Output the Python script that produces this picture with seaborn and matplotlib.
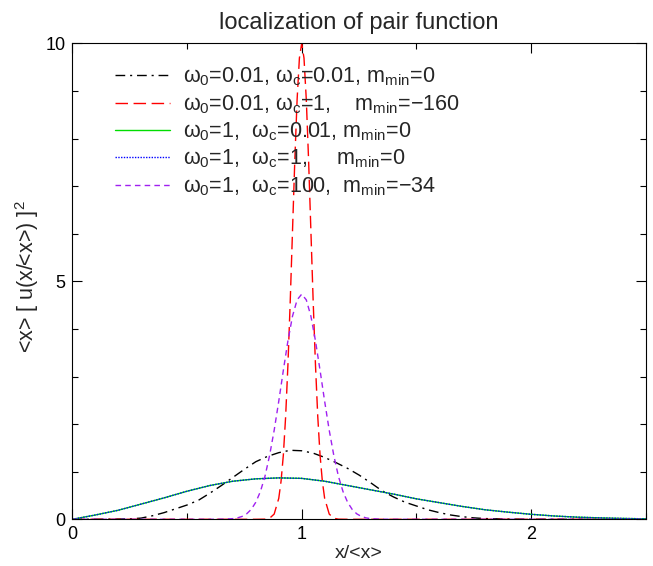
import numpy as np
import pandas as pd
import matplotlib
matplotlib.use("Agg")
import matplotlib.pyplot as plt
import seaborn as sns

# ---------------- data ----------------
black_x = [0.0, 0.10, 0.20, 0.25, 0.30, 0.35, 0.40, 0.45, 0.50, 0.55, 0.60, 0.65, 0.70,
           0.75, 0.80, 0.85, 0.90, 0.95, 1.00, 1.05, 1.10, 1.15, 1.20, 1.25, 1.30, 1.35,
           1.40, 1.45, 1.50, 1.55, 1.60, 1.65, 1.70, 1.75, 1.80, 1.90, 2.00, 2.50]
black_y = [0.0, 0.0, 0.005, 0.01, 0.025, 0.075, 0.14, 0.22, 0.30, 0.40, 0.55, 0.71, 0.88,
           1.05, 1.21, 1.32, 1.40, 1.45, 1.44, 1.39, 1.30, 1.19, 1.07, 0.93, 0.77, 0.60,
           0.47, 0.36, 0.28, 0.20, 0.14, 0.09, 0.055, 0.03, 0.015, 0.005, 0.0, 0.0]

red_x = [0.0, 0.80, 0.84, 0.86, 0.88, 0.90, 0.91, 0.92, 0.93, 0.94, 0.95, 0.96, 0.97, 0.98,
         0.99, 1.00, 1.01, 1.02, 1.03, 1.04, 1.05, 1.06, 1.07, 1.08, 1.09, 1.10, 1.12,
         1.14, 1.16, 1.20, 2.50]
red_y = [0.0, 0.0, 0.003, 0.022, 0.11, 0.44, 0.80, 1.35, 2.16, 3.25, 4.58, 6.07, 7.55, 8.82,
         9.69, 10.0, 9.69, 8.82, 7.55, 6.07, 4.58, 3.25, 2.16, 1.35, 0.80, 0.44, 0.11,
         0.022, 0.003, 0.0, 0.0]

green_x = [0.0, 0.1, 0.2, 0.3, 0.4, 0.5, 0.6, 0.7, 0.8, 0.9, 1.0, 1.1, 1.2, 1.3, 1.4,
           1.5, 1.6, 1.7, 1.8, 1.9, 2.0, 2.1, 2.2, 2.3, 2.4, 2.5]
green_y = [0.0, 0.09, 0.19, 0.32, 0.45, 0.59, 0.71, 0.80, 0.85, 0.87, 0.86, 0.80, 0.71,
           0.62, 0.53, 0.43, 0.35, 0.27, 0.20, 0.15, 0.105, 0.07, 0.045, 0.03, 0.018, 0.01]

blue_x = list(green_x)
blue_y = list(green_y)

purple_x = [0.0, 0.60, 0.66, 0.70, 0.72, 0.74, 0.76, 0.78, 0.80, 0.82, 0.84, 0.86, 0.88,
            0.90, 0.92, 0.94, 0.96, 0.98, 1.00, 1.02, 1.04, 1.06, 1.08, 1.10, 1.12, 1.14,
            1.16, 1.18, 1.20, 1.22, 1.24, 1.26, 1.28, 1.30, 1.34, 1.40, 2.50]
purple_y = [0.0, 0.0, 0.003, 0.014, 0.030, 0.060, 0.115, 0.208, 0.359, 0.584, 0.905, 1.34,
            1.87, 2.48, 3.13, 3.75, 4.27, 4.61, 4.73, 4.61, 4.27, 3.75, 3.13, 2.48, 1.87,
            1.34, 0.905, 0.584, 0.359, 0.208, 0.115, 0.060, 0.030, 0.014, 0.003, 0.0, 0.0]

labels = [
    r"ω$_0$=0.01, ω$_c$=0.01, m$_{min}$=0",
    r"ω$_0$=0.01, ω$_c$=1,    m$_{min}$=−160",
    r"ω$_0$=1,  ω$_c$=0.01, m$_{min}$=0",
    r"ω$_0$=1,  ω$_c$=1,     m$_{min}$=0",
    r"ω$_0$=1,  ω$_c$=100,  m$_{min}$=−34",
]

x_ticks = [0, 1, 2]
y_ticks = [0, 5, 10]
title = "localization of pair function"
xlabel = "x/<x>"
ylabel = r"<x> [ u(x/<x>) ]$^2$"

# ---------------- style ----------------
sns.set_style("ticks")
plt.rcParams["font.family"] = ["Liberation Sans", "DejaVu Sans"]
plt.rcParams["mathtext.fontset"] = "custom"
plt.rcParams["mathtext.rm"] = "Liberation Sans"
plt.rcParams["mathtext.it"] = "Liberation Sans"
plt.rcParams["mathtext.default"] = "regular"

fig = plt.figure(figsize=(6.53, 5.66), dpi=100)
ax = fig.add_axes([0.1107, 0.0825, 0.8783, 0.841])

series = [
    (black_x, black_y, "black", (0, (7, 3.5, 1.5, 3.5))),
    (red_x, red_y, "#ff0000", (0, (9, 4))),
    (green_x, green_y, "#00dd00", "-"),
    (blue_x, blue_y, "#0000ff", (0, (1, 1))),
    (purple_x, purple_y, "#a020f0", (0, (4, 3))),
]

for (xs, ys, col, ls), lab in zip(series, labels):
    df = pd.DataFrame({"x": xs, "y": ys})
    sns.lineplot(data=df, x="x", y="y", ax=ax, color=col, linestyle=ls,
                 linewidth=1.0, label=lab, estimator=None, sort=False)

ax.set_xlim(0, 2.5)
ax.set_ylim(0, 10)
ax.set_xticks(x_ticks)
ax.set_yticks(y_ticks)
ax.set_xticks([0.5, 1.5, 2.5], minor=True)
ax.set_yticks([1, 2, 3, 4, 6, 7, 8, 9], minor=True)
ax.tick_params(which="both", direction="in", top=True, right=True, labelsize=13,
               width=0.8, color="black", labelcolor="black")
ax.tick_params(which="major", length=7, pad=5)
ax.tick_params(which="minor", length=4)
for sp in ax.spines.values():
    sp.set_visible(True)
    sp.set_linewidth(0.8)
    sp.set_color("black")

ax.set_title(title, fontsize=17, pad=10)
ax.set_xlabel(xlabel, fontsize=14, labelpad=1)
ax.set_ylabel(ylabel, fontsize=15.5)
ax.yaxis.set_label_coords(-0.055, 0.51)

leg = ax.legend(loc="upper left", bbox_to_anchor=(0.06, 0.971), frameon=False,
                fontsize=15.5, handlelength=2.55, handletextpad=0.6, labelspacing=0.22,
                borderaxespad=0)

fig.savefig("out.png", dpi=100)
